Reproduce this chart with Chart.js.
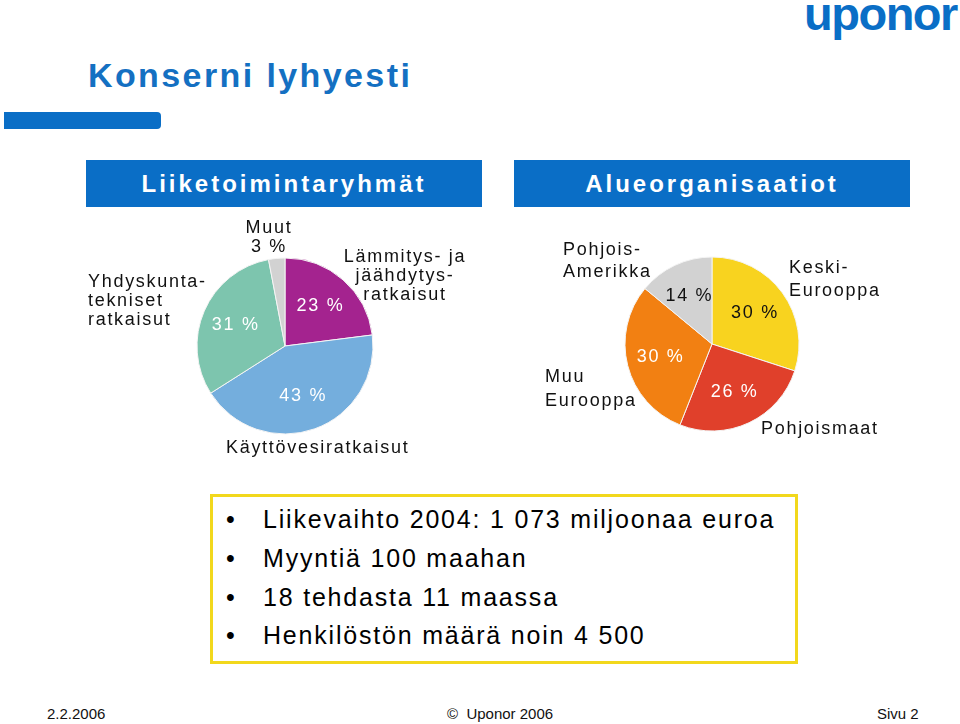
<!DOCTYPE html>
<html>
<head>
<meta charset="utf-8">
<script src="https://cdn.jsdelivr.net/npm/chart.js@4"></script>
<style>
  body { margin: 0; background: #fff; font-family: "Liberation Sans", Arial, sans-serif; }
  #page { position: relative; width: 960px; height: 724px; overflow: hidden; }
  .abs { position: absolute; }
  #logo { left: 804px; top: -14px; font: bold 47px "Liberation Sans", Arial, sans-serif; color: #0a6ec6; letter-spacing: -1.5px; }
  #title { left: 88px; top: 56px; font: bold 34px "Liberation Sans", Arial, sans-serif; color: #1470c2; letter-spacing: 2.4px; }
  #titleBar { left: 4px; top: 112px; width: 157px; height: 17px; background: #0a6ec6; border-radius: 0 4px 4px 0; }
  .head { top: 160px; height: 47px; width: 396px; background: #0a6ec6; color: #fff; font: bold 24px "Liberation Sans", Arial, sans-serif;
          letter-spacing: 3px; line-height: 48px; text-align: center; }
  #factBox { left: 210px; top: 494px; width: 582px; height: 164px; border: 3px solid #f2d81c; }
  #factBox ul { margin: 0; padding: 0; list-style: none; }
  #factBox li { position: absolute; left: 50px; font-size: 25px; letter-spacing: 1.8px; white-space: nowrap; }
  #factBox li::before { content: "\2022"; position: absolute; left: -37px; letter-spacing: 0; }
  .foot { top: 705px; font: 15px "Liberation Sans Narrow", "Liberation Sans", Arial, sans-serif; color: #111; }
  canvas { position: absolute; }
</style>
</head>
<body>
<div id="page">
  <div id="logo" class="abs">uponor</div>
  <div id="title" class="abs">Konserni lyhyesti</div>
  <div id="titleBar" class="abs"></div>
  <div class="abs head" style="left:86px;">Liiketoimintaryhmät</div>
  <div class="abs head" style="left:514px;">Alueorganisaatiot</div>

  <canvas id="segmentChart" width="398" height="260" style="left:86px; top:216px;"></canvas>
  <canvas id="regionChart" width="396" height="260" style="left:514px; top:214px;"></canvas>

  <div id="factBox" class="abs"><ul id="factList"></ul></div>

  <div class="abs foot" style="left:47px;">2.2.2006</div>
  <div class="abs foot" style="left:447px;">©&nbsp; Uponor 2006</div>
  <div class="abs foot" style="left:877px;">Sivu 2</div>
</div>

<script>
// Liiketoimintaryhmät
const segmentLabels = ['Lämmitys- ja jäähdytysratkaisut', 'Käyttövesiratkaisut', 'Yhdyskuntatekniset ratkaisut', 'Muut'];
const segmentShares = [23, 43, 31, 3];
const segmentColors = ['#a4238f', '#74aedd', '#7dc5ae', '#d2d2d2'];

// Alueorganisaatiot
const regionLabels = ['Keski-Eurooppa', 'Pohjoismaat', 'Muu Eurooppa', 'Pohjois-Amerikka'];
const regionShares = [30, 26, 30, 14];
const regionColors = ['#f8d31f', '#e0402b', '#f28012', '#d2d2d2'];

const facts = [
    'Liikevaihto 2004: 1 073 miljoonaa euroa',
    'Myyntiä 100 maahan',
    '18 tehdasta 11 maassa',
    'Henkilöstön määrä noin 4 500'
];

const factTops = [8, 47, 86, 124];
const list = document.getElementById('factList');
facts.forEach((f, i) => {
    const li = document.createElement('li');
    li.textContent = f;
    li.style.top = factTops[i] + 'px';
    list.appendChild(li);
});

const labelFont = '18px "Liberation Sans", Arial, sans-serif';

// draws the % values inside the slices and the category texts round the pie
const pieLabels = {
    id: 'pieLabels',
    afterDraw(chart, args, opts) {
        const ctx = chart.ctx;
        const meta = chart.getDatasetMeta(0);
        const values = chart.data.datasets[0].data;
        ctx.save();
        ctx.font = labelFont;
        ctx.letterSpacing = '1.7px';
        ctx.textBaseline = 'middle';
        ctx.textAlign = 'center';
        meta.data.forEach((arc, i) => {
            if (values[i] < 5) return;
            const p = arc.getProps(['x', 'y', 'startAngle', 'endAngle', 'outerRadius']);
            const mid = (p.startAngle + p.endAngle) / 2;
            const r = p.outerRadius * 0.61;
            ctx.fillStyle = opts.valueColors[i];
            ctx.fillText(values[i] + ' %', p.x + Math.cos(mid) * r, p.y + Math.sin(mid) * r);
        });
        ctx.fillStyle = '#111';
        opts.outer.forEach(o => {
            ctx.textAlign = o.align;
            o.lines.forEach((line, j) => {
                const txt = line.replace('{v}', values[o.index] + ' %');
                ctx.fillText(txt, o.x, o.y + j * o.step);
            });
        });
        ctx.restore();
    }
};

function pieConfig(labels, values, colors, radius, valueColors, outer) {
    return {
        type: 'pie',
        data: {
            labels: labels,
            datasets: [{
                data: values,
                backgroundColor: colors,
                borderColor: '#f4f4f4',
                borderWidth: 1,
                hoverOffset: 0
            }]
        },
        options: {
            responsive: false,
            animation: false,
            radius: radius,
            events: [],
            plugins: {
                legend: { display: false },
                tooltip: { enabled: false },
                pieLabels: { valueColors: valueColors, outer: outer }
            }
        },
        plugins: [pieLabels]
    };
}

new Chart(document.getElementById('segmentChart'), pieConfig(
    segmentLabels, segmentShares, segmentColors, 88,
    ['#fff', '#fff', '#fff', '#fff'],
    [
        { index: 0, x: 319, y: 41, step: 19, align: 'center', lines: ['Lämmitys- ja', 'jäähdytys-', 'ratkaisut'] },
        { index: 1, x: 140, y: 232, step: 19, align: 'left', lines: ['Käyttövesiratkaisut'] },
        { index: 2, x: 2, y: 66, step: 19, align: 'left', lines: ['Yhdyskunta-', 'tekniset', 'ratkaisut'] },
        { index: 3, x: 183, y: 12, step: 19, align: 'center', lines: ['Muut', '{v}'] }
    ]
));

new Chart(document.getElementById('regionChart'), pieConfig(
    regionLabels, regionShares, regionColors, 87,
    ['#111', '#fff', '#fff', '#111'],
    [
        { index: 0, x: 275, y: 54, step: 23, align: 'left', lines: ['Keski-', 'Eurooppa'] },
        { index: 1, x: 247, y: 215, step: 22, align: 'left', lines: ['Pohjoismaat'] },
        { index: 2, x: 31, y: 163, step: 24, align: 'left', lines: ['Muu', 'Eurooppa'] },
        { index: 3, x: 49, y: 36, step: 22, align: 'left', lines: ['Pohjois-', 'Amerikka'] }
    ]
));
</script>
</body>
</html>
